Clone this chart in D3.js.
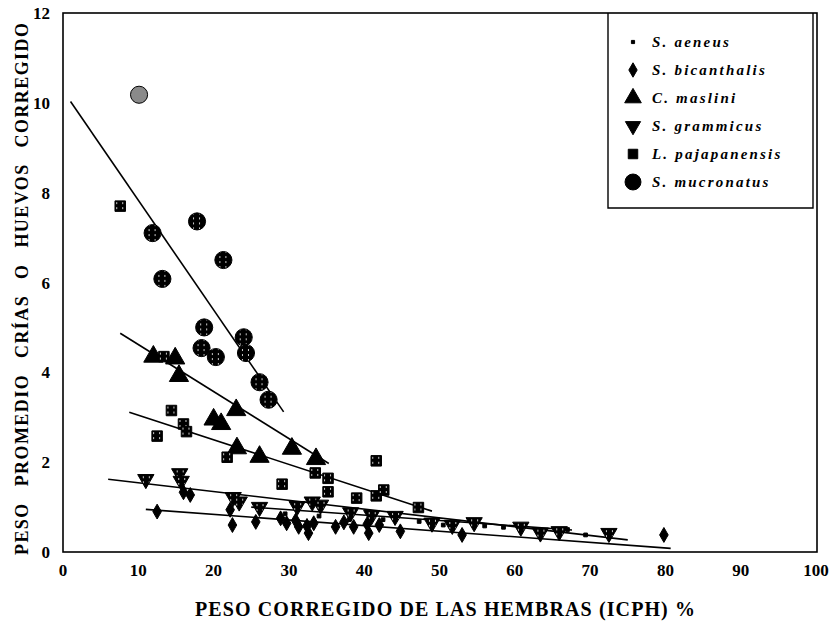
<!DOCTYPE html>
<html>
<head>
<meta charset="utf-8">
<script src="https://cdn.jsdelivr.net/npm/d3@7"></script>
<style>
  html, body { margin: 0; padding: 0; background: #fff; }
  svg { display: block; }
  text { font-family: "Liberation Serif", "Times New Roman", serif; fill: #000; }
</style>
</head>
<body>
<svg id="chart" width="833" height="623"></svg>
<script>
// Species shown in the legend, in order
const speciesNames = ["S. aeneus", "S. bicanthalis", "C. maslini", "S. grammicus", "L. pajapanensis", "S. mucronatus"];

// Observations: [female corrected weight %, mean corrected offspring/egg weight]
const aeneusPts = [[29.5,0.85],[34,0.8],[38,0.72],[42.5,0.72],[47.3,0.68],[50.5,0.6],[56,0.58],[58.5,0.55],[67.0,0.5],[69.4,0.38]];
const bicanthalisPts = [[12.5,0.9],[16.0,1.33],[16.9,1.27],[22.2,0.94],[22.5,0.6],[25.6,0.67],[28.9,0.75],[29.7,0.64],[30.9,0.7],[31.3,0.56],[32.4,0.58],[32.6,0.42],[33.3,0.64],[36.2,0.56],[37.3,0.66],[38.6,0.56],[40.4,0.62],[40.6,0.42],[42.0,0.6],[44.8,0.46],[53.0,0.38],[79.8,0.38]];
const maslintPts = [[12.0,4.35],[14.9,4.31],[15.4,3.92],[20.0,2.95],[21.0,2.85],[23.0,3.16],[23.1,2.31],[26.1,2.12],[30.4,2.3],[33.6,2.07]];
const grammicusPts = [[11.0,1.62],[15.5,1.75],[15.7,1.58],[22.6,1.22],[23.4,1.12],[26.1,1.0],[31.1,1.02],[33.1,1.12],[34.2,1.05],[38.2,0.88],[41.0,0.82],[44.1,0.8],[49.0,0.65],[51.7,0.6],[54.6,0.66],[60.8,0.56],[63.4,0.43],[65.9,0.46],[72.5,0.42]];
const pajapanensisPts = [[7.6,7.7],[13.4,4.35],[14.4,3.15],[12.5,2.58],[16.0,2.85],[16.4,2.68],[21.8,2.11],[29.1,1.51],[33.5,1.76],[35.2,1.64],[35.2,1.34],[39.0,1.2],[41.6,2.03],[41.6,1.25],[42.6,1.38],[47.2,0.99]];
const mucronatusPts = [[10.1,10.18],[11.9,7.1],[13.2,6.08],[17.8,7.36],[21.3,6.5],[18.75,5.0],[18.4,4.54],[20.3,4.34],[24.0,4.78],[24.3,4.43],[26.1,3.78],[27.3,3.39]];

// Fitted trend lines: [[x0,y0],[x1,y1]]
const aeneusFit = [[25,1.0],[67.6,0.49]];
const bicanthalisFit = [[11,0.95],[80.7,0.08]];
const maslintFit = [[7.6,4.87],[35.3,1.97]];
const grammicusFit = [[6,1.62],[75,0.27]];
const pajapanensisFit = [[8.8,3.11],[49,0.91]];
const mucronatusFit = [[1.0,10.03],[29.3,3.12]];

// Axis ticks
const xTicks = [0,10,20,30,40,50,60,70,80,90,100];
const yTicks = [0,2,4,6,8,10,12];

const xTitle = "PESO CORREGIDO DE LAS HEMBRAS (ICPH) %";
const yTitle = "PESO PROMEDIO CRÍAS O HUEVOS CORREGIDO";

const svg = d3.select("#chart");
const x = d3.scaleLinear().domain([0, 100]).range([63, 816]);
const y = d3.scaleLinear().domain([0, 12]).range([552, 13]);

// speckled fill used for the filled markers
const defs = svg.append("defs");
const pat = defs.append("pattern").attr("id", "speck").attr("patternUnits", "userSpaceOnUse")
  .attr("width", 6).attr("height", 5);
pat.append("rect").attr("width", 6).attr("height", 5).attr("fill", "#000");
pat.append("rect").attr("x", 2).attr("y", 1).attr("width", 1).attr("height", 2).attr("fill", "#fff").attr("opacity", 0.8);

// frame
svg.append("rect").attr("x", x(0)).attr("y", y(12)).attr("width", 817 - x(0)).attr("height", y(0) - y(12))
  .attr("fill", "none").attr("stroke", "#000").attr("stroke-width", 1.6);

// tick labels
svg.append("g").selectAll("text").data(xTicks).join("text")
  .attr("x", d => x(d)).attr("y", 576).attr("text-anchor", "middle")
  .attr("font-size", 17).attr("font-weight", "bold").text(d => d);
svg.append("g").selectAll("text").data(yTicks).join("text")
  .attr("x", 50).attr("y", d => y(d) + 6).attr("text-anchor", "end")
  .attr("font-size", 17).attr("font-weight", "bold").text(d => d);

// axis titles
svg.append("text").attr("x", 445).attr("y", 616).attr("text-anchor", "middle")
  .attr("font-size", 20).attr("font-weight", "bold")
  .attr("textLength", 500).attr("lengthAdjust", "spacing").text(xTitle);
svg.append("text").attr("transform", "translate(28,289) rotate(-90)").attr("text-anchor", "middle")
  .attr("font-size", 18).attr("font-weight", "bold").attr("word-spacing", 10)
  .attr("textLength", 532).attr("lengthAdjust", "spacing").text(yTitle);

// trend lines
const line = d3.line().x(d => x(d[0])).y(d => y(d[1]));
const fits = [aeneusFit, bicanthalisFit, maslintFit, grammicusFit, pajapanensisFit, mucronatusFit];
svg.append("g").selectAll("path").data(fits).join("path")
  .attr("d", line).attr("fill", "none").attr("stroke", "#000").attr("stroke-width", 1.6);

// marker shapes per species
const shapes = [
  { pts: aeneusPts, type: d3.symbolSquare, size: 14, rot: 0, fill: "#000" },
  { pts: bicanthalisPts, type: d3.symbolDiamond, size: 64, rot: 0, fill: "#000" },
  { pts: maslintPts, type: d3.symbolTriangle, size: 160, rot: 0, fill: "#000" },
  { pts: grammicusPts, type: d3.symbolTriangle, size: 115, rot: 180, fill: "url(#speck)" },
  { pts: pajapanensisPts, type: d3.symbolSquare, size: 110, rot: 0, fill: "url(#speck)" },
  { pts: mucronatusPts, type: d3.symbolCircle, size: 230, rot: 0, fill: "url(#speck)" }
];

shapes.forEach((s, i) => {
  svg.append("g").selectAll("path").data(s.pts).join("path")
    .attr("transform", d => `translate(${x(d[0])},${y(d[1])}) rotate(${s.rot})`)
    .attr("d", d3.symbol().type(s.type).size(s.size))
    .attr("fill", (d, j) => (i === 5 && j === 0) ? "#8a8a8a" : s.fill)
    .attr("stroke", "#000").attr("stroke-width", 1);
});

// legend
const lg = svg.append("g");
lg.append("path").attr("d", "M608,13 V208 H813 V13").attr("fill", "none").attr("stroke", "#000").attr("stroke-width", 1.4);
const legendSizes = [10, 60, 120, 100, 90, 200];
speciesNames.forEach((name, i) => {
  const ly = 42 + i * 28;
  const s = shapes[i];
  lg.append("path").attr("transform", `translate(633,${ly}) rotate(${s.rot})`)
    .attr("d", d3.symbol().type(s.type).size(legendSizes[i]))
    .attr("fill", "#000").attr("stroke", "#000").attr("stroke-width", 1);
  lg.append("text").attr("x", 652).attr("y", ly + 5)
    .attr("font-size", 15).attr("font-weight", "bold").attr("font-style", "italic")
    .attr("letter-spacing", 2.2).text(name);
});
</script>
</body>
</html>
